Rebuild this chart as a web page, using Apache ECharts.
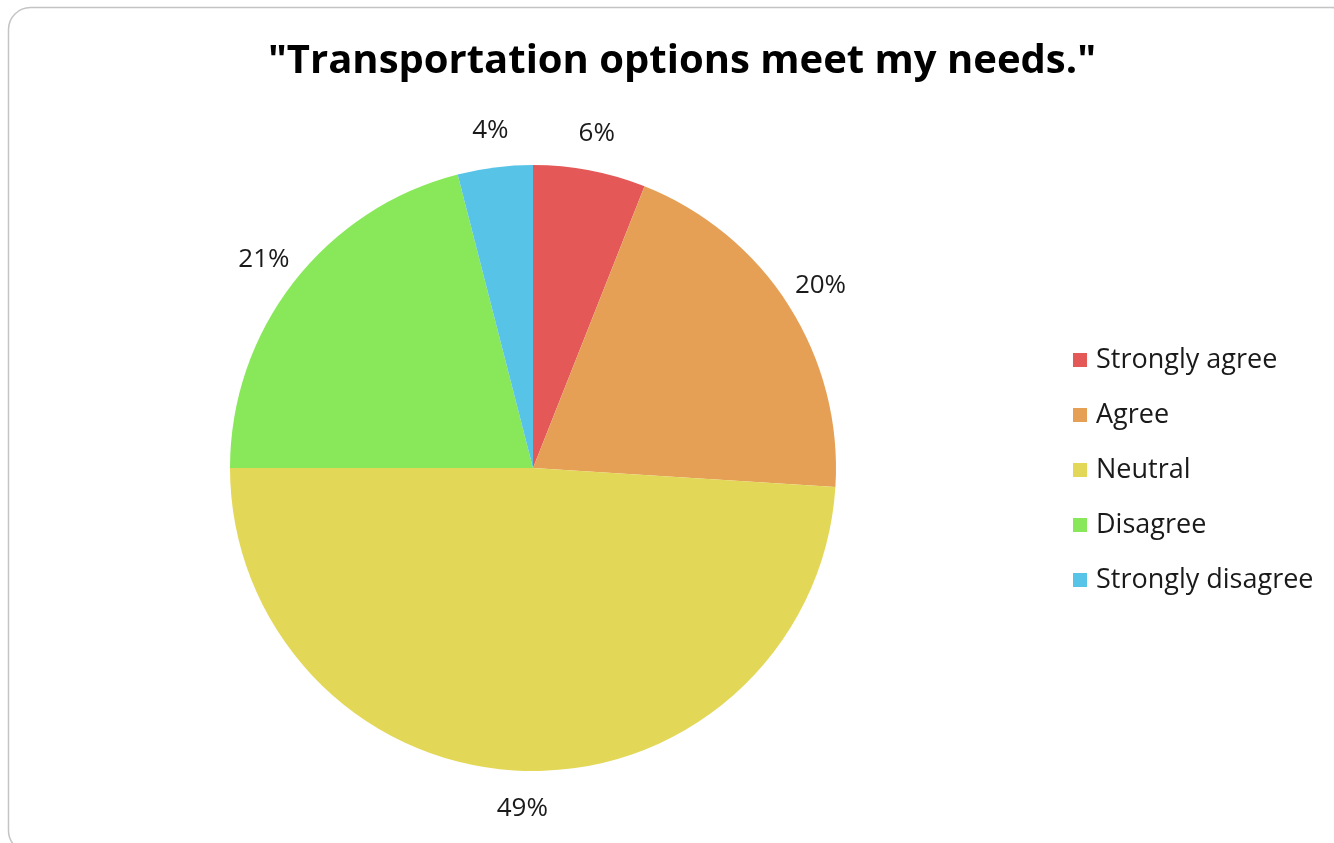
<!DOCTYPE html>
<html>
<head>
<meta charset="utf-8">
<script src="https://cdn.jsdelivr.net/npm/echarts@6/dist/echarts.min.js"></script>
<style>html,body{margin:0;padding:0;background:#fff;}#c{width:1334px;height:843px;}</style>
</head>
<body>
<div id="c"></div>
<script>
const categories = ["Strongly agree", "Agree", "Neutral", "Disagree", "Strongly disagree"];
const values = [6, 20, 49, 21, 4];
const colors = ["#E45858", "#E6A056", "#E3D757", "#88E85A", "#57C3E6"];
const titleText = '"Transportation options meet my needs."';

const chart = echarts.init(document.getElementById('c'), null, {renderer: 'canvas'});
const data = categories.map((n, i) => ({name: n, value: values[i], itemStyle: {color: colors[i]}}));
const labelData = categories.map((n, i) => ({name: n, value: values[i]}));
chart.setOption({
  animation: false,
  backgroundColor: '#ffffff',
  graphic: [{
    type: 'rect', shape: {x: 8.5, y: 7.5, width: 1345, height: 845, r: 22},
    style: {fill: 'none', stroke: '#c4c4c4', lineWidth: 1.5}, silent: true, z: -1
  }],
  title: {
    text: titleText, left: 677, top: 37, textAlign: 'center',
    textStyle: {fontFamily: 'Open Sans', fontWeight: 'bold', fontSize: 40, color: '#000'}
  },
  legend: {
    orient: 'vertical', left: 1068, top: 341,
    data: categories,
    icon: 'rect', itemWidth: 14, itemHeight: 14, itemGap: 27,
    textStyle: {fontFamily: 'Open Sans', fontSize: 27, color: '#1a1a1a', lineHeight: 28, padding: [0, 0, 0, 4]}
  },
  series: [{
    type: 'pie', center: [533, 468], radius: [0, 303],
    startAngle: 90, clockwise: true,
    label: {show: false}, labelLine: {show: false},
    itemStyle: {borderWidth: 0},
    emphasis: {disabled: true},
    data: data
  }, {
    type: 'pie', center: [533, 468], radius: [303, 372],
    startAngle: 90, clockwise: true, silent: true,
    legendHoverLink: false,
    itemStyle: {color: 'rgba(0,0,0,0)'},
    label: {show: true, position: 'inside', formatter: '{c}%', fontFamily: 'Open Sans', fontSize: 26, color: '#1a1a1a'},
    labelLine: {show: false},
    emphasis: {disabled: true},
    data: labelData
  }]
});
</script>
</body>
</html>
